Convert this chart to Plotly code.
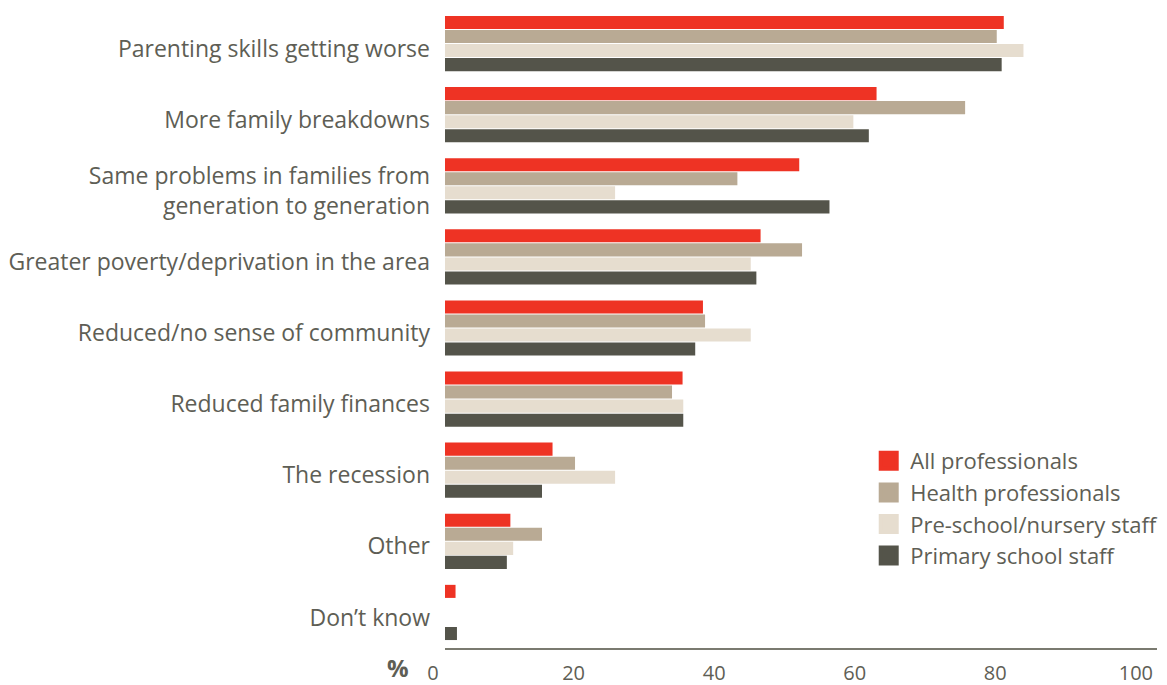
import plotly.graph_objects as go

categories = [
    "Parenting skills getting worse",
    "More family breakdowns",
    "Same problems in families from<br>generation to generation",
    "Greater poverty/deprivation in the area",
    "Reduced/no sense of community",
    "Reduced family finances",
    "The recession",
    "Other",
    "Don\u2019t know",
]
series_names = ["All professionals", "Health professionals",
                "Pre-school/nursery staff", "Primary school staff"]
all_prof = [79.5, 61.4, 50.4, 44.9, 36.7, 33.8, 15.3, 9.3, 1.5]
health_prof = [78.5, 74.0, 41.6, 50.8, 37.0, 32.3, 18.5, 13.8, 0]
preschool = [82.3, 58.1, 24.2, 43.5, 43.5, 33.9, 24.2, 9.7, 0]
primary = [79.2, 60.3, 54.7, 44.3, 35.6, 33.9, 13.8, 8.8, 1.7]
tick_vals = [0, 20, 40, 60, 80, 100]

colors = ["#EE3324", "#B9AA94", "#E6DDCF", "#54544A"]
text_color = "#5E5E55"
font_family = "Open Sans, sans-serif"

fig = go.Figure()
for name, vals, col in zip(series_names, [all_prof, health_prof, preschool, primary], colors):
    fig.add_trace(go.Bar(y=categories, x=vals, name=name, orientation="h",
                         marker=dict(color=col, line=dict(width=0)), showlegend=False))
for name, col in zip(series_names, colors):
    fig.add_trace(go.Scatter(x=[None], y=[None], mode="markers", name=name,
                             marker=dict(symbol="square", size=16, color=col,
                                         line=dict(width=4, color=col))))

# the page body adds an 8px margin, so the figure is sized to fit the window
fig.update_layout(
    width=1159, height=677,
    margin=dict(l=437, r=10, t=0, b=37),
    paper_bgcolor="white", plot_bgcolor="white",
    barmode="group", bargap=0.21, bargroupgap=0.07,
    font=dict(family=font_family, color=text_color, size=23),
    legend=dict(x=0.593, y=0.325, xanchor="left", yanchor="top",
                font=dict(size=22, color=text_color), bgcolor="rgba(0,0,0,0)",
                itemsizing="trace", itemwidth=33, tracegroupgap=0),
    xaxis=dict(range=[0, 101.3], tickvals=tick_vals, showgrid=False, zeroline=False,
               showline=True, linecolor="#7A7A70", linewidth=2, automargin=False,
               ticks="", ticklabelstandoff=6, ticklabelshift=-12,
               tickfont=dict(size=20, color=text_color)),
    yaxis=dict(autorange="reversed", showgrid=False, zeroline=False, showline=False,
               automargin=False, ticks="", ticklabelstandoff=14, ticklabelshift=-5,
               tickfont=dict(size=23, color=text_color)),
)
fig.add_annotation(text="<b>%</b>", xref="paper", yref="paper", x=-0.066, y=0,
                   xanchor="center", yanchor="middle", yshift=-19, showarrow=False,
                   font=dict(size=24, color=text_color))

fig.write_html("out.html")
